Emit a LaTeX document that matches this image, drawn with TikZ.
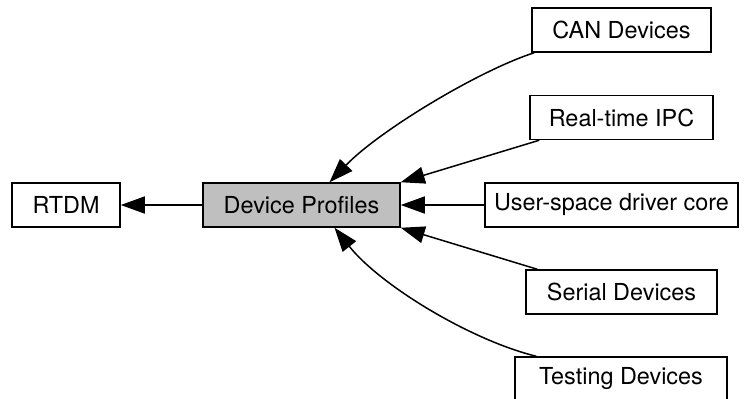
\documentclass[tikz,border=0pt]{standalone}
\usepackage{fontspec}
\setmainfont{TeX Gyre Heros}
\usetikzlibrary{arrows.meta, positioning, calc}

\begin{document}
\begin{tikzpicture}[
    x=0.5pt, y=-0.5pt,
    font=\fontsize{11.7}{14}\selectfont,
    group/.style={rectangle, draw, line width=0.75pt, inner sep=0pt, minimum height=22pt, align=center},
    current/.style={group, fill=black!25},
    dep/.style={-{Triangle[length=12pt, width=8.5pt]}, line width=0.75pt}
]
    \useasboundingbox (0,0) rectangle (750,398);

    \node[group, minimum width=54pt] (rtdm) at (66,205) {RTDM};
    \node[current, minimum width=98.5pt] (prof) at (301.5,205) {Device Profiles};
    \node[group, minimum width=89.5pt] (can) at (621.5,30) {CAN Devices};
    \node[group, minimum width=91.5pt] (ipc) at (621.5,117.5) {Real-time IPC};
    \node[group, minimum width=126.5pt] (udd) at (611.5,205) {User-space driver core};
    \node[group, minimum width=95.5pt] (serial) at (621.5,292) {Serial Devices};
    \node[group, minimum width=106pt] (testing) at (621,379) {Testing Devices};

    \draw[dep] (prof) -- (rtdm);
    \draw[dep] ($(can.south west)+(3,0)$) .. controls (480,70) and (380,130) .. ($(prof.north)+(28,0)$);
    \draw[dep] ($(ipc.south west)+(10,0)$) -- (prof.north east);
    \draw[dep] (udd) -- (prof);
    \draw[dep] ($(serial.north west)+(12,0)$) -- (prof.south east);
    \draw[dep] ($(testing.north west)+(22,0)$) .. controls (470,340) and (380,285) .. ($(prof.south)+(33,0)$);
\end{tikzpicture}
\end{document}
